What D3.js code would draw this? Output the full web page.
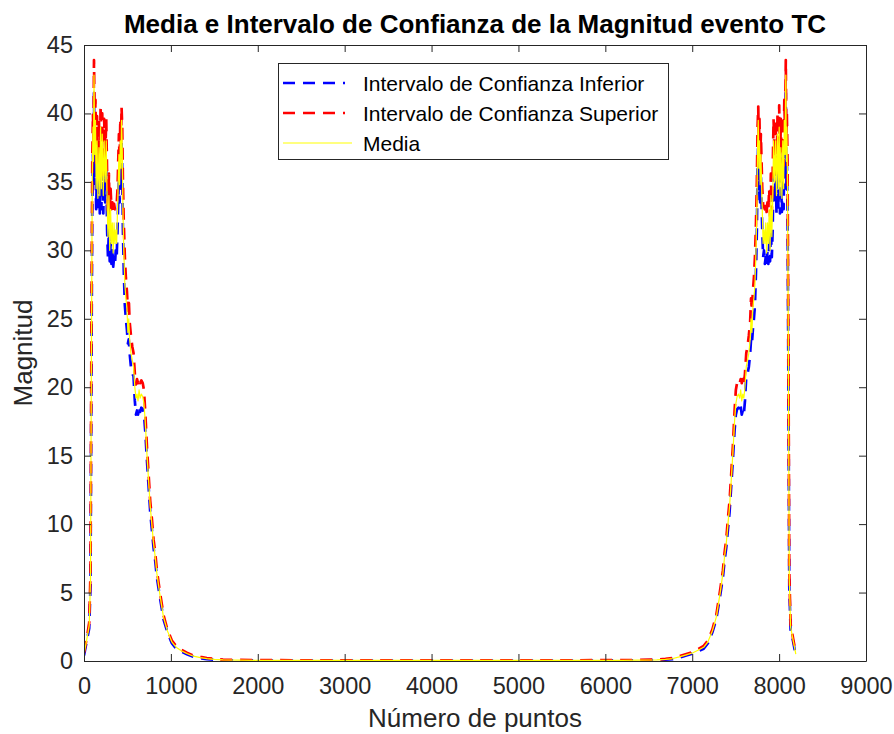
<!DOCTYPE html>
<html>
<head>
<meta charset="utf-8">
<script src="https://cdn.jsdelivr.net/npm/d3@7"></script>
<style>
  body { margin: 0; background: #fff; }
  text { font-family: "Liberation Sans", Arial, sans-serif; }
</style>
</head>
<body>
<div id="magnitud_tc"></div>
<script>
// sample index (Número de puntos)
var puntos = [
  0, 30, 60, 75, 85, 95, 103, 109, 115, 124,
  132, 140, 150, 160, 172, 182, 191, 200, 210, 222,
  232, 244, 256, 266, 276, 287, 296, 306, 316, 326,
  336, 346, 356, 366, 376, 386, 394, 402, 410, 418,
  426, 432, 440, 448, 458, 470, 482, 494, 505, 515,
  525, 540, 555, 570, 585, 598, 610, 622, 634, 646,
  660, 676, 690, 705, 724, 743, 762, 781, 800, 820,
  839, 870, 915, 960, 1011, 1060, 1120, 1184, 1260, 1340,
  1414, 1500, 1600, 2000, 3000, 4096, 5000, 6192, 6592, 6692,
  6778, 6852, 6932, 7008, 7072, 7132, 7181, 7232, 7277, 7322,
  7353, 7372, 7392, 7411, 7430, 7449, 7468, 7487, 7502, 7516,
  7532, 7546, 7558, 7570, 7582, 7594, 7607, 7622, 7637, 7652,
  7667, 7677, 7687, 7698, 7710, 7722, 7734, 7744, 7752, 7760,
  7766, 7774, 7782, 7790, 7798, 7806, 7816, 7826, 7836, 7846,
  7856, 7866, 7876, 7886, 7896, 7905, 7916, 7926, 7936, 7948,
  7960, 7970, 7982, 7992, 8001, 8010, 8020, 8032, 8042, 8052,
  8060, 8068, 8077, 8083, 8089, 8097, 8107, 8117, 8132, 8162,
  8192
];

var media = [
  0.5, 1.5, 2.6, 6, 22, 35, 39, 36.5, 42.8, 37,
  39.5, 34.5, 38, 33.8, 37.5, 34, 39, 34.5, 38.5, 34,
  38, 35, 38, 33.5, 31, 34, 30, 33, 30.5, 32,
  29.8, 32, 30.5, 31.5, 30.5, 33, 35, 37, 34.8, 38,
  36, 39.5, 37.5, 33, 30, 27.5, 26.5, 25.8, 24, 25,
  23.5, 22.5, 22, 21.5, 20, 19.2, 19.5, 19, 19.8, 19.2,
  19.5, 19.3, 18.8, 17.5, 15.2, 13.2, 11.3, 10, 8.6, 7.6,
  6.4, 5.0, 3.2, 2.2, 1.4, 1.0, 0.75, 0.55, 0.35, 0.25,
  0.18, 0.12, 0.08, 0.05, 0.04, 0.04, 0.04, 0.05, 0.08, 0.12,
  0.18, 0.3, 0.45, 0.6, 0.8, 1.0, 1.4, 2.2, 3.2, 5.0,
  6.4, 7.6, 8.6, 10, 11.3, 13.2, 15.2, 17.5, 18.8, 19.3,
  19.5, 19.2, 19.8, 19, 19.5, 19.2, 20, 21.5, 22, 22.5,
  23.5, 25, 24, 25.8, 26.5, 27.5, 30, 33, 37.5, 39.5,
  36, 38, 34.8, 37, 35, 33, 30.5, 31.5, 30.5, 32,
  29.8, 32, 30.5, 33, 30, 34, 31, 33.5, 38, 35,
  38, 34, 38.5, 34.5, 39, 34, 37.5, 33.8, 38, 34.5,
  39.5, 37, 42.8, 36.5, 39, 35, 22, 6, 2.5, 1.5,
  0.5
];

var inferior = [
  0.4, 1.4, 2.4, 5.5, 20.5, 33, 37, 34.5, 41.5, 35.2,
  37.5, 33, 36, 32.8, 35.5, 32.7, 37, 33, 36.5, 32.7,
  36, 33.5, 36.2, 31.5, 29.5, 31.5, 29.2, 30.5, 29, 30,
  28.8, 29.5, 29, 30, 29.5, 31.5, 33.5, 35.5, 33.5, 36.3,
  34.5, 38, 36, 31.5, 28.5, 26, 25, 24.2, 23.2, 23.5,
  22.5, 21.5, 21, 20.8, 19, 18, 18.3, 18, 18.6, 18.2,
  18.5, 18.4, 18, 16.8, 14.7, 12.8, 10.9, 9.6, 8.3, 7.3,
  6.1, 4.8, 3.05, 2.1, 1.3, 0.9, 0.68, 0.5, 0.3, 0.2,
  0.14, 0.09, 0.06, 0.04, 0.03, 0.03, 0.03, 0.04, 0.06, 0.09,
  0.14, 0.25, 0.4, 0.55, 0.72, 0.9, 1.3, 2.1, 3.05, 4.8,
  6.1, 7.3, 8.3, 9.6, 10.9, 12.8, 14.7, 16.8, 18, 18.4,
  18.5, 18.2, 18.6, 18, 18.3, 18, 19, 20.8, 21, 21.5,
  22.5, 23.5, 23.2, 24.2, 25, 26, 28.5, 31.5, 36, 38,
  34.5, 36.3, 33.5, 35.5, 33.5, 31.5, 29.5, 30, 29, 29.5,
  28.8, 30, 29, 30.5, 29.2, 31.5, 29.5, 31.5, 36.2, 33.5,
  36, 32.7, 36.5, 33, 37, 32.7, 35.5, 32.8, 36, 33,
  37.5, 35.2, 41.5, 34.5, 37, 33, 20.5, 5.5, 2.3, 1.4,
  0.4
];

var superior = [
  0.6, 1.6, 2.8, 6.5, 23.5, 36.5, 40, 38, 43.9, 38.8,
  41, 36.2, 39.8, 35.5, 39.6, 35.8, 40.6, 36.3, 40, 35.5,
  39.6, 36.8, 39.6, 35.5, 32.8, 35.6, 32.5, 34.5, 33, 33.5,
  32.8, 33.4, 33, 33.2, 33.3, 34.5, 36.5, 38.5, 36.5, 39.6,
  37.8, 40.5, 39, 35, 32, 29.5, 28, 27, 25.6, 26.5,
  24.8, 23.8, 23, 22.5, 21, 20.2, 20.6, 20.3, 20.6, 20.3,
  20.5, 20.3, 19.8, 18.2, 15.7, 13.7, 11.7, 10.4, 8.9, 7.9,
  6.6, 5.2, 3.35, 2.3, 1.5, 1.1, 0.82, 0.6, 0.4, 0.3,
  0.22, 0.15, 0.1, 0.06, 0.05, 0.05, 0.05, 0.06, 0.1, 0.15,
  0.22, 0.35, 0.5, 0.65, 0.88, 1.1, 1.5, 2.3, 3.35, 5.2,
  6.6, 7.9, 8.9, 10.4, 11.7, 13.7, 15.7, 18.2, 19.8, 20.3,
  20.5, 20.3, 20.6, 20.3, 20.6, 20.2, 21, 22.5, 23, 23.8,
  24.8, 26.5, 25.6, 27, 28, 29.5, 32, 35, 39, 40.5,
  37.8, 39.6, 36.5, 38.5, 36.5, 34.5, 33.3, 33.2, 33, 33.4,
  32.8, 33.5, 33, 34.5, 32.5, 35.6, 32.8, 35.5, 39.6, 36.8,
  39.6, 35.5, 40, 36.3, 40.6, 35.8, 39.6, 35.5, 39.8, 36.2,
  41, 38.8, 43.9, 38, 40, 36.5, 23.5, 6.5, 2.7, 1.6,
  0.6
];

var x_ticks = [0, 1000, 2000, 3000, 4000, 5000, 6000, 7000, 8000, 9000];
var y_ticks = [0, 5, 10, 15, 20, 25, 30, 35, 40, 45];
var leyenda = ["Intervalo de Confianza Inferior", "Intervalo de Confianza Superior", "Media"];

var idname = "#magnitud_tc";
var margin = {left: 84, right: 28, top: 45, bottom: 73};
var width = 894 - margin.left - margin.right;
var height = 734 - margin.top - margin.bottom;
var axis_color = "#262626";

var x = d3.scaleLinear().domain([0, 9000]).range([0, width]);
var y = d3.scaleLinear().domain([0, 45]).range([height, 0]);

var svg_root = d3.select(idname).append("svg")
    .attr("width", 894)
    .attr("height", 734);

svg_root.append("rect")
    .attr("width", 894).attr("height", 734)
    .attr("fill", "#fff");

var svg = svg_root.append("g")
    .attr("transform", "translate(" + margin.left + "," + margin.top + ")");

svg.append("defs").append("clipPath")
    .attr("id", "plot_clip")
  .append("rect")
    .attr("x", 0).attr("y", -2)
    .attr("width", width).attr("height", height + 3);

// series
var series = [
    {name: leyenda[0], values: inferior, color: "#0000ff", dash: "12,8", w: 2.7},
    {name: leyenda[1], values: superior, color: "#ff0000", dash: "12,8", w: 2.7},
    {name: leyenda[2], values: media, color: "#ffff00", dash: null, w: 1.2}
];

var line = function(vals) {
    return d3.line()
        .x(function(d, i) { return x(puntos[i]); })
        .y(function(d) { return y(d); })(vals);
};

svg.append("g").attr("clip-path", "url(#plot_clip)")
    .selectAll(".serie")
    .data(series)
  .enter().append("path")
    .attr("class", "serie")
    .attr("d", function(d) { return line(d.values); })
    .attr("fill", "none")
    .attr("stroke", function(d) { return d.color; })
    .attr("stroke-width", function(d) { return d.w; })
    .attr("stroke-dasharray", function(d) { return d.dash; })
    .attr("stroke-linejoin", "round");

// axes (MATLAB box, ticks inside)
var xAxis = d3.axisBottom(x).tickValues(x_ticks).tickFormat(d3.format("d"))
    .tickSizeInner(-7).tickSizeOuter(0).tickPadding(16);
var yAxis = d3.axisLeft(y).tickValues(y_ticks).tickFormat(d3.format("d"))
    .tickSizeInner(-7).tickSizeOuter(0).tickPadding(11);
var xTop = d3.axisTop(x).tickValues(x_ticks).tickSizeInner(-7).tickSizeOuter(0).tickFormat("");
var yRight = d3.axisRight(y).tickValues(y_ticks).tickSizeInner(-7).tickSizeOuter(0).tickFormat("");

svg.append("g").attr("class", "x_axis")
    .attr("transform", "translate(0," + height + ")")
    .call(xAxis);
svg.append("g").attr("class", "y_axis").call(yAxis);
svg.append("g").attr("class", "x_top").call(xTop);
svg.append("g").attr("class", "y_right")
    .attr("transform", "translate(" + width + ",0)")
    .call(yRight);

svg.selectAll(".domain, .tick line")
    .attr("stroke", axis_color)
    .attr("stroke-width", 1);
svg.selectAll(".tick text")
    .attr("fill", axis_color)
    .style("font-size", "23.5px");

// labels
svg.append("text")
    .attr("x", width / 2)
    .attr("y", height + 66)
    .attr("text-anchor", "middle")
    .attr("fill", axis_color)
    .style("font-size", "26px")
    .text("Número de puntos");

svg.append("text")
    .attr("transform", "translate(" + (32 - margin.left) + "," + (height / 2) + ") rotate(-90)")
    .attr("text-anchor", "middle")
    .attr("fill", axis_color)
    .style("font-size", "26px")
    .text("Magnitud");

svg.append("text")
    .attr("x", width / 2)
    .attr("y", 33 - margin.top)
    .attr("text-anchor", "middle")
    .attr("fill", "#000")
    .style("font-size", "26px")
    .style("font-weight", "bold")
    .text("Media e Intervalo de Confianza de la Magnitud evento TC");

// legend
var legend = svg_root.append("g").attr("class", "legend");
legend.append("rect")
    .attr("x", 278.5).attr("y", 63.5)
    .attr("width", 390).attr("height", 96)
    .attr("fill", "#fff")
    .attr("stroke", axis_color)
    .attr("stroke-width", 1);

var items = legend.selectAll(".item")
    .data(series)
  .enter().append("g")
    .attr("class", "item")
    .attr("transform", function(d, i) { return "translate(0," + (83 + i * 30) + ")"; });

items.append("line")
    .attr("x1", 283).attr("x2", 352)
    .attr("y1", 0).attr("y2", 0)
    .attr("stroke", function(d) { return d.color; })
    .attr("stroke-width", function(d) { return d.w; })
    .attr("stroke-dasharray", function(d) { return d.dash ? "12,8,12,8,12,8,2,20" : null; });

items.append("text")
    .attr("x", 363)
    .attr("y", 0)
    .attr("dy", "0.36em")
    .attr("fill", "#000")
    .style("font-size", "21px")
    .text(function(d) { return d.name; });
</script>
</body>
</html>
